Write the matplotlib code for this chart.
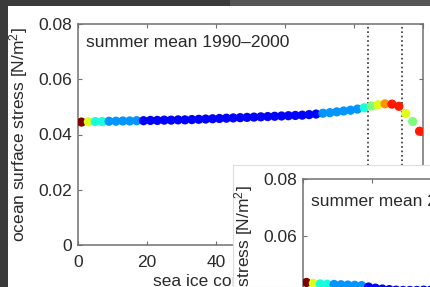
import matplotlib
matplotlib.use("Agg")
import matplotlib.pyplot as plt
from matplotlib.patches import Rectangle
import numpy as np

plt.rcParams['font.family'] = ['Liberation Sans', 'DejaVu Sans']
plt.rcParams['mathtext.fontset'] = 'custom'
plt.rcParams['mathtext.rm'] = 'Liberation Sans'
plt.rcParams['mathtext.it'] = 'Liberation Sans:italic'

# ---- data ----
ice_conc = [1, 3, 5, 7, 9, 11, 13, 15, 17, 19, 21, 23, 25, 27, 29, 31, 33, 35, 37, 39,
            41, 43, 45, 47, 49, 51, 53, 55, 57, 59, 61, 63, 65, 67, 69, 71, 73, 75, 77, 79,
            81, 83, 85, 87, 89, 91, 93, 95, 97, 99]

stress_1990_2000 = [0.0445, 0.0446, 0.0447, 0.0447, 0.0448, 0.0448, 0.0449, 0.0449, 0.0450, 0.0450,
                    0.0451, 0.0451, 0.0452, 0.0452, 0.0453, 0.0453, 0.0454, 0.0455, 0.0456, 0.0457,
                    0.0458, 0.0459, 0.0460, 0.0461, 0.0462, 0.0463, 0.0464, 0.0465, 0.0466, 0.0467,
                    0.0468, 0.0469, 0.0470, 0.0472, 0.0474, 0.0477, 0.0479, 0.0482, 0.0485, 0.0488,
                    0.0492, 0.0497, 0.0503, 0.0508, 0.0511, 0.0510, 0.0502, 0.0476, 0.0447, 0.0412]

level_1990_2000 = [1.00, 0.62, 0.38, 0.38, 0.27, 0.27, 0.27, 0.27, 0.27, 0.12,
                   0.12, 0.12, 0.12, 0.12, 0.12, 0.12, 0.12, 0.12, 0.12, 0.12,
                   0.12, 0.12, 0.12, 0.12, 0.12, 0.12, 0.12, 0.12, 0.12, 0.12,
                   0.12, 0.12, 0.12, 0.12, 0.12, 0.27, 0.27, 0.27, 0.27, 0.27,
                   0.27, 0.38, 0.50, 0.62, 0.75, 0.88, 0.88, 0.62, 0.50, 0.88]

stress_inset = [0.0437, 0.0434, 0.0432, 0.0431, 0.0430, 0.0429, 0.0428, 0.0427, 0.0426, 0.0421,
                0.0417, 0.0414, 0.0412, 0.0410, 0.0409, 0.0409, 0.0409, 0.0410, 0.0410, 0.0411,
                0.0412, 0.0413, 0.0414, 0.0415, 0.0416, 0.0418, 0.0419, 0.0421, 0.0423, 0.0425,
                0.0427, 0.0429, 0.0431, 0.0434, 0.0437, 0.0440, 0.0444, 0.0448, 0.0452, 0.0457,
                0.0462, 0.0468, 0.0474, 0.0480, 0.0486, 0.0489, 0.0485, 0.0470, 0.0448, 0.0420]

level_inset = [1.00, 0.62, 0.38, 0.38, 0.27, 0.27, 0.27, 0.27, 0.27, 0.12,
               0.12, 0.12, 0.12, 0.12, 0.12, 0.12, 0.12, 0.12, 0.12, 0.12,
               0.12, 0.12, 0.12, 0.12, 0.12, 0.12, 0.12, 0.12, 0.12, 0.12,
               0.12, 0.12, 0.12, 0.12, 0.12, 0.27, 0.27, 0.27, 0.27, 0.27,
               0.27, 0.38, 0.50, 0.62, 0.75, 0.88, 0.88, 0.62, 0.50, 0.88]

marker_lines = [84, 94]
x_ticks = [0, 20, 40, 60, 80, 100]
x_ticklabels = ['0', '20', '40', '60', '80', '100']
y_ticks = [0, 0.02, 0.04, 0.06, 0.08]
y_ticklabels = ['0', '0.02', '0.04', '0.06', '0.08']

W, H = 431, 287
fig = plt.figure(figsize=(W / 100, H / 100), dpi=100)
fig.patch.set_facecolor('#3a3a3a')

def fx(px):
    return px / W

def fy(py):
    return 1 - py / H

# background panels
fig.add_artist(Rectangle((fx(230), fy(7)), fx(W - 230), 7 / H, transform=fig.transFigure,
                         facecolor='#565656', edgecolor='none', zorder=-6))
fig.add_artist(Rectangle((fx(8), 0), fx(W - 8), fy(6), transform=fig.transFigure,
                         facecolor='white', edgecolor='none', zorder=-5))

FS = 12.5
TXT = '#2a2a2a'
SPINE = '#707070'


def style_axes(ax, show_xlabels=True):
    ax.set_xlim(0, 100)
    ax.set_ylim(0, 0.08)
    ax.set_xticks(x_ticks)
    ax.set_xticklabels(x_ticklabels)
    ax.set_yticks(y_ticks)
    ax.set_yticklabels(y_ticklabels)
    ax.tick_params(direction='in', top=True, right=True, length=3, width=0.8,
                   color=SPINE, labelsize=FS, labelcolor=TXT, pad=4)
    ax.tick_params(axis='x', pad=7)
    for s in ax.spines.values():
        s.set_color(SPINE)
        s.set_linewidth(1.1)
    ax.set_facecolor('white')
    ax.set_ylabel('ocean surface stress [N/m$^2$]', fontsize=FS, color=TXT, labelpad=6)
    ax.set_xlabel('sea ice concentration [%]', fontsize=FS, color=TXT, labelpad=3)


cmap = plt.get_cmap('jet')

# main axes
ax = fig.add_axes([fx(78), fy(245), fx(345), 221 / H])
style_axes(ax)
for xv in marker_lines:
    ax.axvline(xv, color='#333333', linestyle=':', linewidth=1.2, zorder=1)
ax.scatter(ice_conc, stress_1990_2000, c=[cmap(v) for v in level_1990_2000], s=44,
           marker='o', edgecolors='none', zorder=3)
ax.text(0.024, 0.915, 'summer mean 1990\u20132000', transform=ax.transAxes, fontsize=FS,
        color=TXT, va='center', ha='left')

# inset panel (overlapping figure)
fig.add_artist(Rectangle((fx(233), 0), fx(W - 233), fy(165), transform=fig.transFigure,
                         facecolor='white', edgecolor='#dddddd', linewidth=0.8, zorder=2))
ax2 = fig.add_axes([fx(303), fy(407), fx(345), 228 / H])
ax2.set_zorder(3)
style_axes(ax2)
ax2.scatter(ice_conc, stress_inset, c=[cmap(v) for v in level_inset], s=44,
            marker='o', edgecolors='none', zorder=3)
ax2.text(0.024, 0.90, 'summer mean 2000\u20132010', transform=ax2.transAxes, fontsize=FS,
         color=TXT, va='center', ha='left')

fig.savefig('out.png', dpi=100, facecolor=fig.get_facecolor())
